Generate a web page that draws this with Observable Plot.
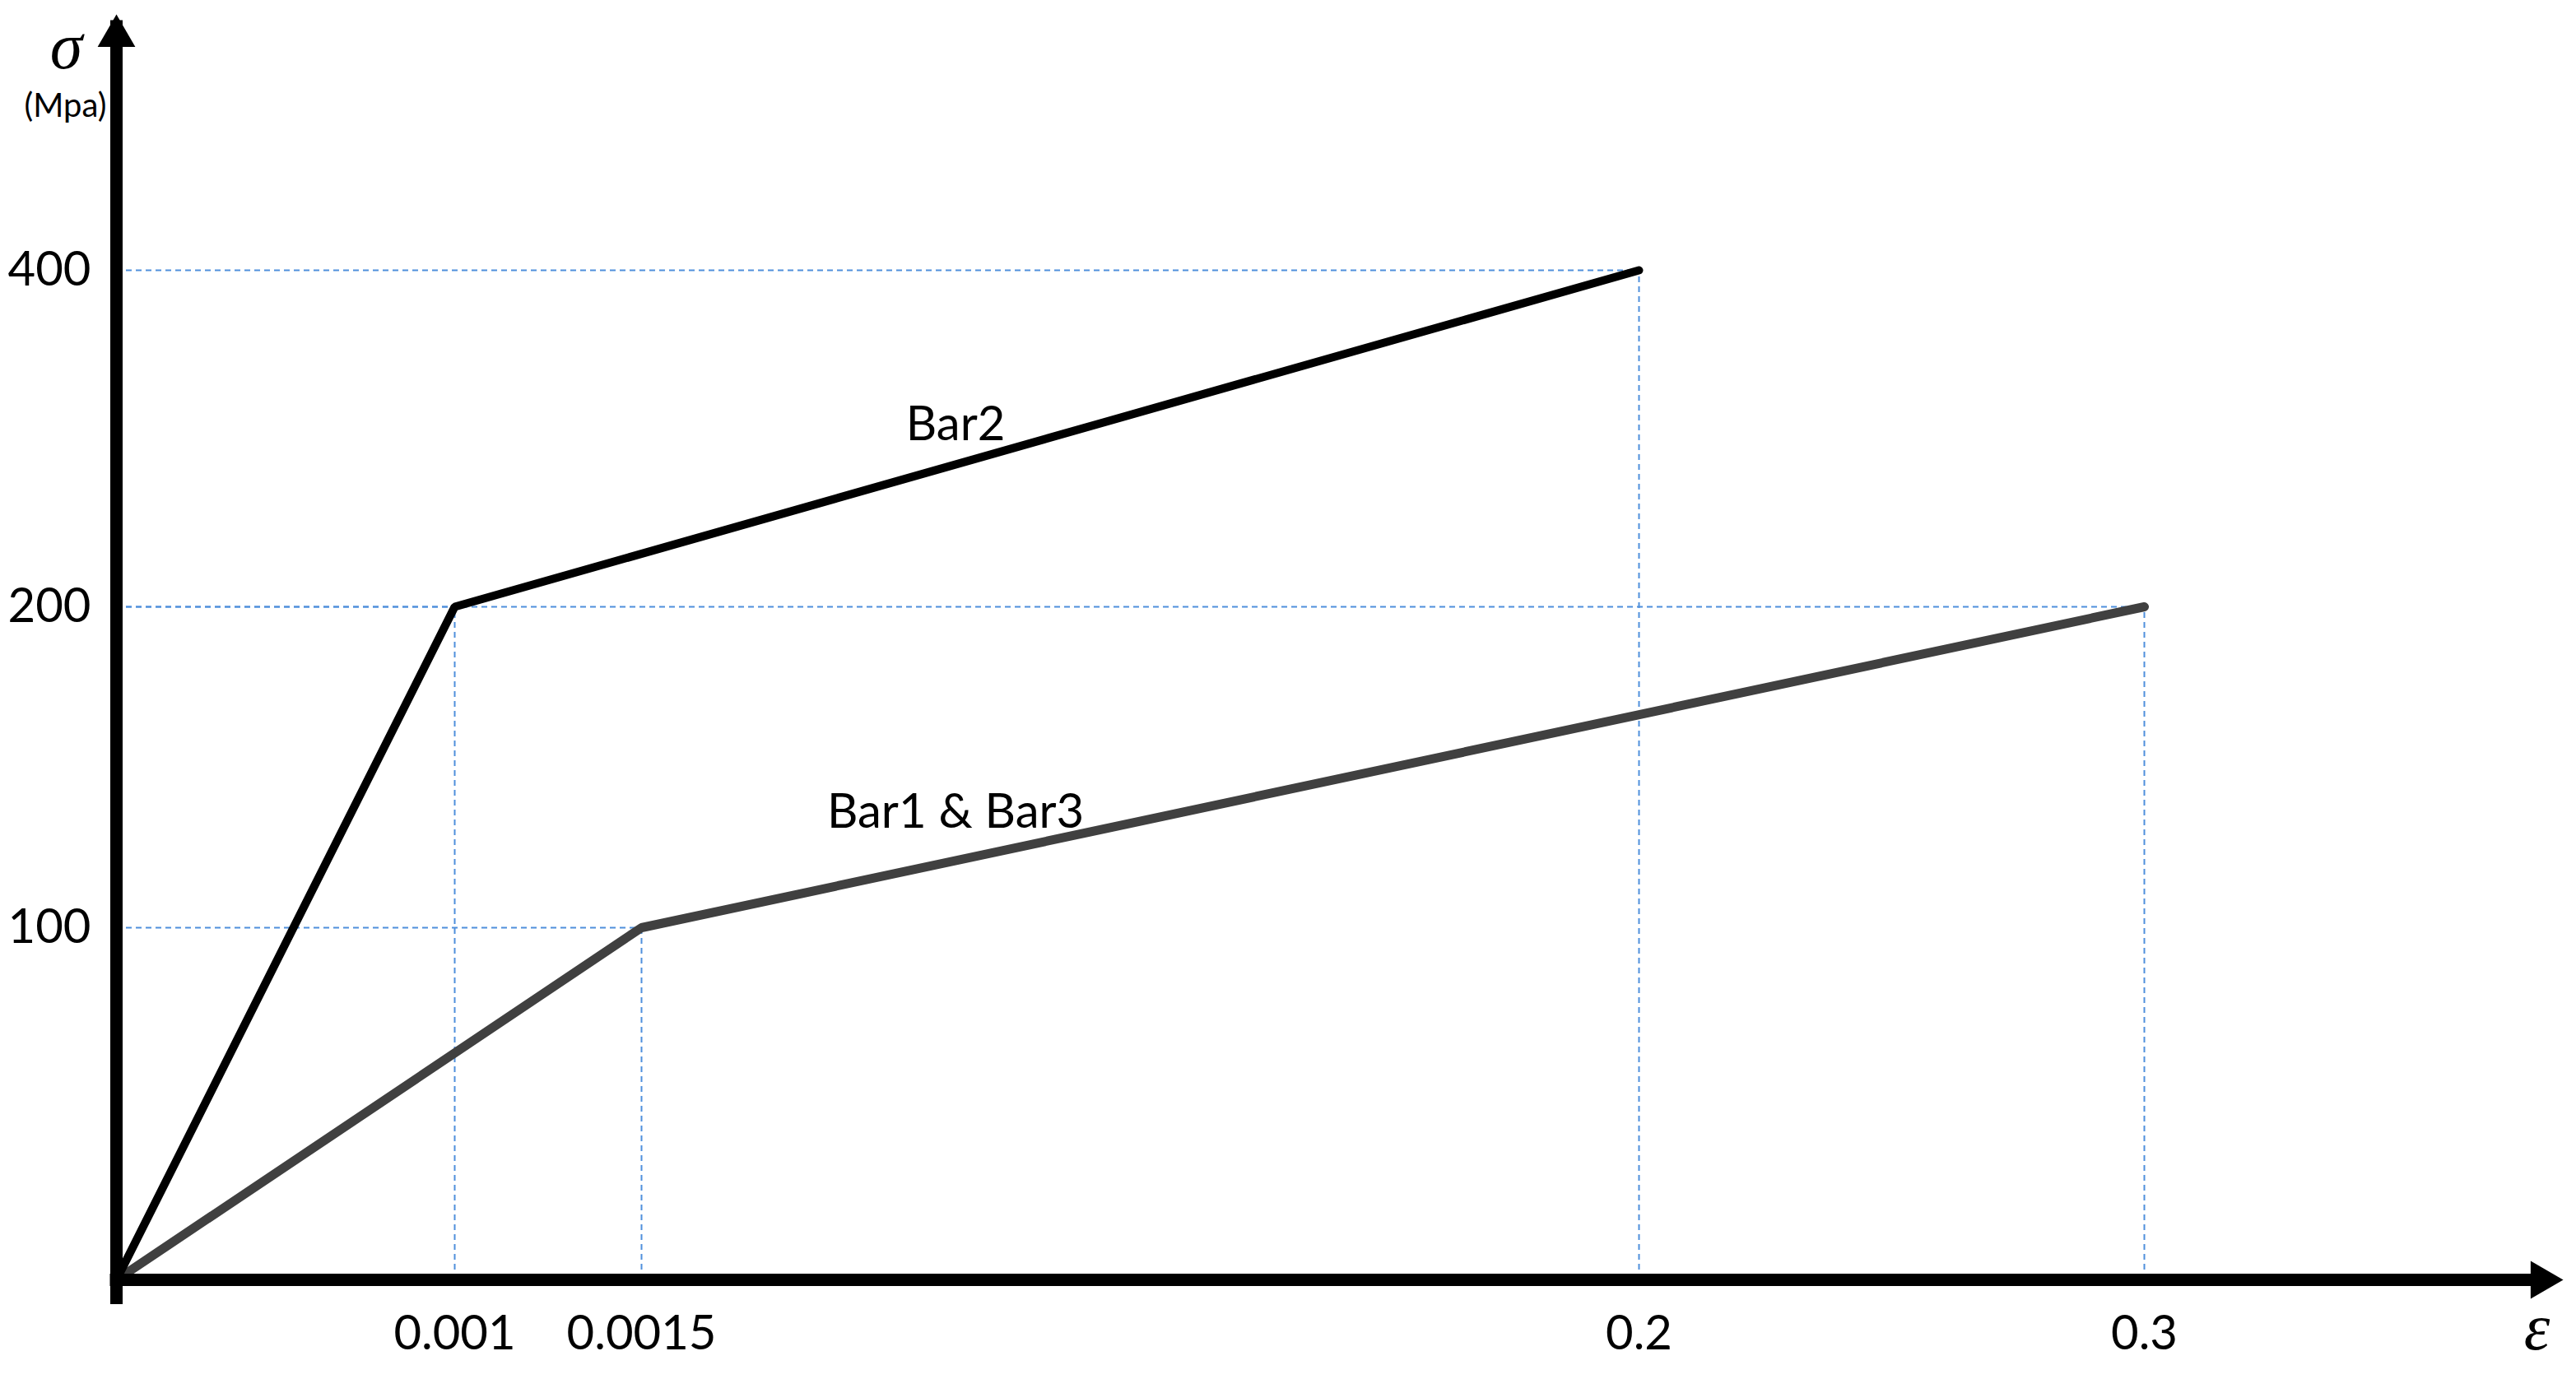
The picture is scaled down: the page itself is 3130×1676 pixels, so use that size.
<!DOCTYPE html>
<html>
<head>
<meta charset="utf-8">
<script src="https://cdn.jsdelivr.net/npm/d3@7"></script>
<script src="https://cdn.jsdelivr.net/npm/@observablehq/plot@0.6"></script>
<style>
  html, body { margin: 0; padding: 0; background: #ffffff; }
  #chart svg { display: block; }
</style>
</head>
<body>
<div id="chart"></div>
<script>
// ---- data ----
const xTicks = [0.001, 0.0015, 0.2, 0.3];
const xTickLabels = ["0.001", "0.0015", "0.2", "0.3"];
const yTicks = [100, 200, 400];
const yTickLabels = ["100", "200", "400"];

const bar2Strain = [0, 0.001, 0.2];
const bar2Stress = [0, 200, 400];
const bar13Strain = [0, 0.0015, 0.3];
const bar13Stress = [0, 100, 200];

const seriesLabels = ["Bar2", "Bar1 & Bar3"];
const seriesLabelX = [0.064, 0.064];
const seriesLabelY = [308, 136];

const xAxisEnd = 0.38;   // arrow tip of the strain axis (schematic)
const yAxisEnd = 550;    // arrow tip of the stress axis (schematic)

// ---- tables ----
const bar2 = bar2Strain.map((x, i) => ({x, y: bar2Stress[i]}));
const bar13 = bar13Strain.map((x, i) => ({x, y: bar13Stress[i]}));
const vertices = [...bar2.slice(1), ...bar13.slice(1)];
const labels = seriesLabels.map((t, i) => ({t, x: seriesLabelX[i], y: seriesLabelY[i]}));

const guideColor = "#4f8fdc";
const font = "Lato, 'Open Sans', sans-serif";
const serif = "'Liberation Serif', 'DejaVu Serif', serif";

const chart = Plot.plot({
  width: 3130,
  height: 1676,
  margin: 0,
  style: {fontFamily: font, background: "white", color: "black"},
  x: {type: "linear", domain: [0, ...xTicks, xAxisEnd], range: [141, 552, 779, 1991, 2605, 3114], axis: null},
  y: {type: "linear", domain: [0, ...yTicks, yAxisEnd], range: [1555, 1127, 737, 328, 17], axis: null},
  marks: [
    // dashed guide lines
    Plot.ruleX(vertices, {x: "x", y1: 0, y2: "y", stroke: guideColor, strokeWidth: 2, strokeDasharray: "7,5"}),
    Plot.ruleY(vertices, {y: "y", x1: 0, x2: "x", stroke: guideColor, strokeWidth: 2, strokeDasharray: "7,5"}),
    // stress-strain lines
    Plot.line(bar13, {x: "x", y: "y", stroke: "#404040", strokeWidth: 11, strokeLinejoin: "miter"}),
    Plot.line(bar2, {x: "x", y: "y", stroke: "#000000", strokeWidth: 10, strokeLinejoin: "miter"}),
    // axes
    Plot.ruleX([0], {y1: 0, y2: yAxisEnd, stroke: "black", strokeWidth: 15, insetTop: 30, insetBottom: -7.5}),
    Plot.ruleY([0], {x1: 0, x2: xAxisEnd, stroke: "black", strokeWidth: 15, insetRight: 30, insetLeft: -7.5}),
    Plot.dot([{x: 0, y: yAxisEnd}], {x: "x", y: "y", symbol: "triangle", r: 17, fill: "black", stroke: null, dy: 26.4}),
    Plot.dot([{x: xAxisEnd, y: 0}], {x: "x", y: "y", symbol: "triangle", r: 17, rotate: 90, fill: "black", stroke: null, dx: -26.4}),
    // tick labels
    Plot.text(xTicks, {x: d => d, y: 0, text: (d, i) => xTickLabels[i], fontSize: 58, dy: 66, textAnchor: "middle", lineAnchor: "middle", fill: "black"}),
    Plot.text(yTicks, {x: 0, y: d => d, text: (d, i) => yTickLabels[i], fontSize: 58, dx: -31, textAnchor: "end", lineAnchor: "middle", fill: "black"}),
    // axis titles
    Plot.text(["σ"], {x: 0, y: yAxisEnd, fontSize: 80, fontStyle: "italic", fontFamily: serif, dx: -61, dy: 40, textAnchor: "middle", lineAnchor: "middle", fill: "black"}),
    Plot.text(["(Mpa)"], {x: 0, y: yAxisEnd, fontSize: 40, dx: -62, dy: 112, textAnchor: "middle", lineAnchor: "middle", fill: "black"}),
    Plot.text(["ε"], {x: xAxisEnd, y: 0, fontSize: 80, fontStyle: "italic", fontFamily: serif, dx: -32, dy: 59, textAnchor: "middle", lineAnchor: "middle", fill: "black"}),
    // series labels
    Plot.text(labels, {x: "x", y: "y", text: "t", fontSize: 58, textAnchor: "middle", lineAnchor: "middle", fill: "black"})
  ]
});
document.getElementById("chart").appendChild(chart);
</script>
</body>
</html>
